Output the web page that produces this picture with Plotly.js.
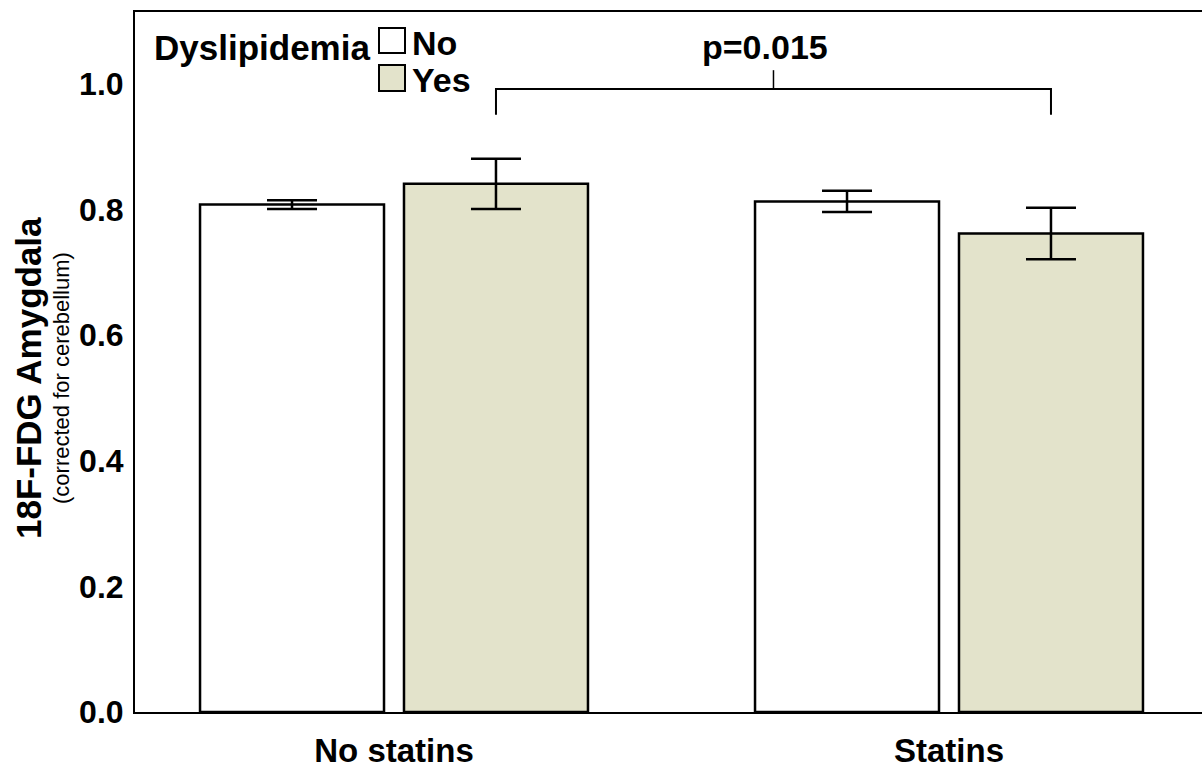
<!DOCTYPE html>
<html>
<head>
<meta charset="utf-8">
<script src="https://cdn.plot.ly/plotly-3.0.1.min.js"></script>
<style>
  html, body { margin: 0; padding: 0; background: #ffffff; overflow: hidden; }
  #chart { width: 1202px; height: 766px; }
</style>
</head>
<body>
<div id="chart"></div>
<script>
// ---- data ----
const categories = ["No statins", "Statins"];
const seriesNames = ["No", "Yes"];
const meansNo = [0.808, 0.813];
const errNo = [0.007, 0.017];
const meansYes = [0.841, 0.762];
const errYes = [0.040, 0.041];
const legendTitle = "Dyslipidemia";
const pText = "p=0.015";
const yTickVals = [0, 0.2, 0.4, 0.6, 0.8, 1.0];
const yTickText = ["0.0", "0.2", "0.4", "0.6", "0.8", "1.0"];
const yTitleMain = "18F-FDG Amygdala";
const yTitleSub = "(corrected for cerebellum)";

// ---- style ----
const colors = ["#ffffff", "#e3e3cb"];
const FONT = "Liberation Sans, Arial, Helvetica, sans-serif";
const W = 1202, H = 766;
const M = { l: 135, r: 0, t: 12, b: 54 };
const bargap = 0.265, bargroupgap = 0.098;
const pw = W - M.l - M.r, ph = H - M.t - M.b;
const px2x = px => (px - M.l) / pw;
const py2y = py => (H - M.b - py) / ph;

const errStyle = { type: "data", visible: true, color: "#000", thickness: 2.5, width: 25 };

const traces = [
  {
    type: "bar", name: seriesNames[0], x: categories, y: meansNo,
    marker: { color: colors[0], line: { color: "#000", width: 2.5 } },
    error_y: Object.assign({ array: errNo }, errStyle),
    showlegend: false, hoverinfo: "skip"
  },
  {
    type: "bar", name: seriesNames[1], x: categories, y: meansYes,
    marker: { color: colors[1], line: { color: "#000", width: 2.5 } },
    error_y: Object.assign({ array: errYes }, errStyle),
    showlegend: false, hoverinfo: "skip"
  }
];

// bracket between the "Yes" bars of both groups
const slot = (1 - bargap) / 2;
const yesOffset = slot / 2;
const bx0 = 0 + yesOffset, bx1 = 1 + yesOffset, bmid = (bx0 + bx1) / 2;
const bTop = 0.992, bLow = 0.951, bTick = 1.022;

const shapes = [
  { type: "path", xref: "x", yref: "y",
    path: `M${bx0},${bLow} L${bx0},${bTop} L${bx1},${bTop} L${bx1},${bLow}`,
    line: { color: "#000", width: 2 } },
  { type: "line", xref: "x", yref: "y", x0: bmid, x1: bmid, y0: bTop, y1: bTick,
    line: { color: "#000", width: 1.5 } },
  // legend boxes
  { type: "rect", xref: "paper", yref: "paper",
    x0: px2x(379), x1: px2x(405), y0: py2y(53), y1: py2y(28),
    fillcolor: colors[0], line: { color: "#000", width: 2 } },
  { type: "rect", xref: "paper", yref: "paper",
    x0: px2x(379), x1: px2x(405), y0: py2y(91), y1: py2y(65),
    fillcolor: colors[1], line: { color: "#000", width: 2 } }
];

const annotations = [
  { xref: "paper", yref: "paper", x: px2x(152), y: py2y(48), xanchor: "left", yanchor: "middle",
    text: "<b>" + legendTitle + "</b>", showarrow: false, font: { family: FONT, size: 35, color: "#000" } },
  { xref: "paper", yref: "paper", x: px2x(410), y: py2y(43), xanchor: "left", yanchor: "middle",
    text: "<b>" + seriesNames[0] + "</b>", showarrow: false, font: { family: FONT, size: 34, color: "#000" } },
  { xref: "paper", yref: "paper", x: px2x(410), y: py2y(80), xanchor: "left", yanchor: "middle",
    text: "<b>" + seriesNames[1] + "</b>", showarrow: false, font: { family: FONT, size: 34, color: "#000" } },
  { xref: "x", yref: "paper", x: bmid - 0.015, y: py2y(47), xanchor: "center", yanchor: "middle",
    text: "<b>" + pText + "</b>", showarrow: false, font: { family: FONT, size: 34, color: "#000" } },
  { xref: "paper", yref: "paper", x: px2x(28), y: py2y(378), xanchor: "center", yanchor: "middle",
    text: "<b>" + yTitleMain + "</b>", textangle: -90, showarrow: false,
    font: { family: FONT, size: 35, color: "#000" } },
  { xref: "paper", yref: "paper", x: px2x(61), y: py2y(378), xanchor: "center", yanchor: "middle",
    text: yTitleSub, textangle: -90, showarrow: false,
    font: { family: FONT, size: 22, color: "#000" } }
];

const layout = {
  width: W, height: H,
  margin: M,
  paper_bgcolor: "#ffffff", plot_bgcolor: "#ffffff",
  barmode: "group", bargap: bargap, bargroupgap: bargroupgap,
  font: { family: FONT, color: "#000" },
  xaxis: {
    type: "category", range: [(135 - 394) / 555, (1202 - 394) / 555],
    showline: true, linecolor: "#000", linewidth: 2, mirror: true,
    ticks: "", showgrid: false, zeroline: false,
    tickfont: { family: FONT, size: 33, color: "#000" },
    ticklabelstandoff: 8,
    tickprefix: "<b>", ticksuffix: "</b>"
  },
  yaxis: {
    range: [0, (H - M.b - M.t) / 628],
    tickvals: yTickVals, ticktext: yTickText.map(t => "<b>" + t + "</b>"),
    showline: true, linecolor: "#000", linewidth: 2, mirror: false,
    ticks: "", showgrid: false, zeroline: false,
    tickfont: { family: FONT, size: 32, color: "#000" },
    ticklabelstandoff: 3
  },
  shapes: shapes,
  annotations: annotations
};

Plotly.newPlot("chart", traces, layout, { displayModeBar: false, staticPlot: true });
</script>
</body>
</html>
